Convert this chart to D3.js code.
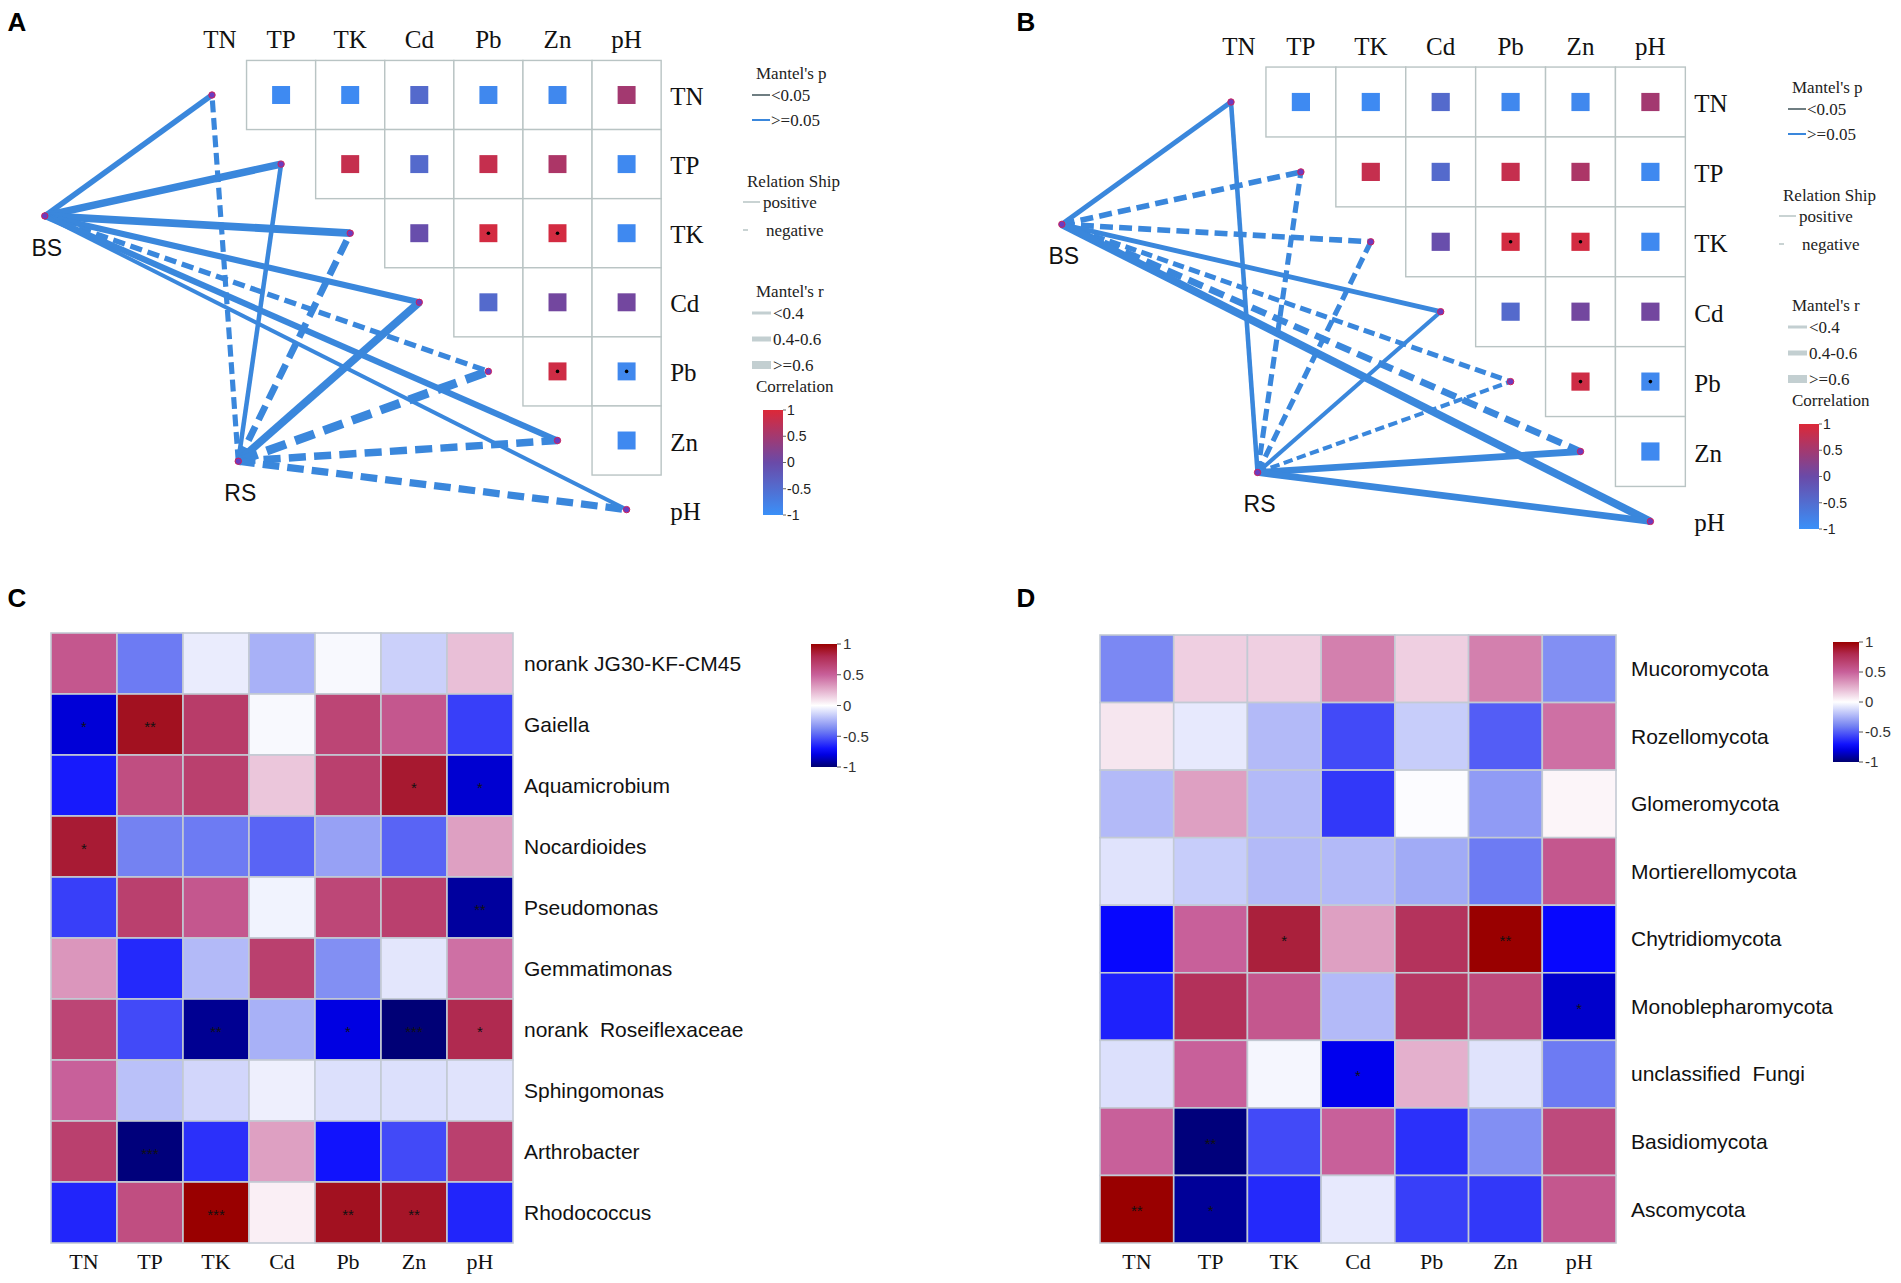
<!DOCTYPE html>
<html><head><meta charset="utf-8">
<script src="https://cdn.jsdelivr.net/npm/d3@7"></script>
<style>body{margin:0;background:#fff;} svg{display:block;} text{white-space:pre;}</style>
</head><body>
<svg id="chart" width="1901" height="1283"></svg>
<script>
// ---------------- DATA ----------------
const envVars = ["TN","TP","TK","Cd","Pb","Zn","pH"];
// Pearson correlation among environmental factors (upper triangle, row i / col j>i)
const envCorr = [
  [null,-0.92,-0.92,-0.45,-0.88,-0.88, 0.50],
  [null, null, 0.80,-0.45, 0.80, 0.58,-0.90],
  [null, null, null,-0.05, 0.92, 0.92,-0.90],
  [null, null, null, null,-0.45, 0.08, 0.08],
  [null, null, null, null, null, 0.88,-0.88],
  [null, null, null, null, null, null,-0.90],
  [null, null, null, null, null, null, null]
];
const envSig = [
  ["","","","","","",""],
  ["","","","","","",""],
  ["","","","","*","*",""],
  ["","","","","","",""],
  ["","","","","","*","*"],
  ["","","","","","",""],
  ["","","","","","",""]
];
const samples = ["BS","RS"];
// Mantel's r (sign = relationship: + positive / - negative); all Mantel's p >= 0.05
const mantelA_BS = [0.44, 0.63, 0.67, 0.50,-0.41, 0.50, 0.26];
const mantelA_RS = [-0.39, 0.33,-0.56, 0.67,-0.78,-0.63,-0.61];
const mantelB_BS = [0.37,-0.44,-0.44, 0.37,-0.37,-0.56, 0.67];
const mantelB_RS = [0.33,-0.39,-0.39, 0.28,-0.28, 0.56, 0.56];
const corrTicks = [1,0.5,0,-0.5,-1];

const bactGenera = ["norank JG30-KF-CM45","Gaiella","Aquamicrobium","Nocardioides","Pseudomonas","Gemmatimonas","norank  Roseiflexaceae","Sphingomonas","Arthrobacter","Rhodococcus"];
const bactCorr = [
  [ 0.55,-0.42,-0.06,-0.25,-0.02,-0.15, 0.20],
  [-0.82, 0.92, 0.70,-0.02, 0.65, 0.55,-0.58],
  [-0.68, 0.60, 0.68, 0.18, 0.68, 0.88,-0.83],
  [ 0.87,-0.40,-0.42,-0.48,-0.30,-0.48, 0.30],
  [-0.58, 0.68, 0.55,-0.04, 0.64, 0.68,-0.92],
  [ 0.33,-0.64,-0.22, 0.68,-0.36,-0.08, 0.45],
  [ 0.65,-0.55,-0.94,-0.25,-0.80,-0.99, 0.80],
  [ 0.50,-0.20,-0.13,-0.05,-0.10,-0.10,-0.09],
  [ 0.68,-0.98,-0.62, 0.30,-0.70,-0.55, 0.68],
  [-0.65, 0.60, 1.00, 0.05, 0.92, 0.90,-0.65]
];
const bactSig = [
  ["","","","","","",""],
  ["*","**","","","","",""],
  ["","","","","","*","*"],
  ["*","","","","","",""],
  ["","","","","","","**"],
  ["","","","","","",""],
  ["","","**","","*","***","*"],
  ["","","","","","",""],
  ["","***","","","","",""],
  ["","","***","","**","**",""]
];
const fungiPhyla = ["Mucoromycota","Rozellomycota","Glomeromycota","Mortierellomycota","Chytridiomycota","Monoblepharomycota","unclassified  Fungi","Basidiomycota","Ascomycota"];
const fungiCorr = [
  [-0.38, 0.15, 0.15, 0.40, 0.15, 0.40,-0.36],
  [ 0.08,-0.07,-0.22,-0.55,-0.16,-0.50, 0.45],
  [-0.22, 0.30,-0.22,-0.60,-0.01,-0.32, 0.03],
  [-0.09,-0.16,-0.22,-0.22,-0.27,-0.42, 0.55],
  [-0.73, 0.50, 0.85, 0.30, 0.75, 1.00,-0.73],
  [-0.66, 0.76, 0.55,-0.22, 0.72, 0.62,-0.84],
  [-0.10, 0.50,-0.03,-0.78, 0.25,-0.09,-0.42],
  [ 0.50,-0.98,-0.55, 0.50,-0.62,-0.36, 0.62],
  [ 1.00,-0.93,-0.64,-0.07,-0.58,-0.60, 0.55]
];
const fungiSig = [
  ["","","","","","",""],
  ["","","","","","",""],
  ["","","","","","",""],
  ["","","","","","",""],
  ["","","*","","","**",""],
  ["","","","","","","*"],
  ["","","","*","","",""],
  ["","**","","","","",""],
  ["**","*","","","","",""]
];

// ---------------- SETUP ----------------
const svg = d3.select("#chart");
const SERIF = "'Liberation Serif','Times New Roman',serif";
const SANS = "'Liberation Sans',Arial,Helvetica,sans-serif";
const corrColor = d3.scaleLinear().domain([-1,0,1]).range(["#3a90f8","#6a4aa8","#dc2838"]);
const heatColor = d3.scaleLinear()
  .domain([-1,-0.75,-0.4,0,0.5,0.8,1])
  .range(["#000070","#0000ff","#7482f2","#ffffff","#c8609a","#b02a50","#990000"]);
const widthScale = d3.scaleLinear().domain([0,1]).range([1.4,11]);
const LINE_BLUE = "#3a87dc";

const defs = svg.append("defs");
function gradient(id, scale){
  const lg = defs.append("linearGradient").attr("id",id).attr("x1",0).attr("y1",0).attr("x2",0).attr("y2",1);
  d3.range(0,1.0001,0.05).forEach(t=>{
    lg.append("stop").attr("offset",t).attr("stop-color",scale(1-2*t));
  });
}
gradient("gCorr", corrColor);
gradient("gHeat", heatColor);

function panelLetter(t,x,y){
  svg.append("text").attr("x",x).attr("y",y).attr("text-anchor","middle")
    .attr("font-family",SANS).attr("font-weight","bold").attr("font-size",26).text(t);
}

// ---------------- MANTEL PANELS ----------------
function mantelPanel(cfg){
  const g = svg.append("g");
  const x = d3.scaleLinear().domain([0,6]).range([cfg.ox, cfg.ox+6*cfg.cell]);
  const y = d3.scaleLinear().domain([0,6]).range([cfg.oy, cfg.oy+6*cfg.cell]);
  const h = cfg.cell/2;
  const cells = [];
  envCorr.forEach((row,i)=>row.forEach((v,j)=>{ if(j>i) cells.push({i,j,v,s:envSig[i][j]}); }));
  g.selectAll("rect.cell").data(cells).join("rect").attr("class","cell")
    .attr("x",d=>x(d.j)-h).attr("y",d=>y(d.i)-h).attr("width",cfg.cell).attr("height",cfg.cell)
    .attr("fill","#fff").attr("stroke","#b9c4c4").attr("stroke-width",1.4);
  const sq = cfg.cell*0.26;
  g.selectAll("rect.sq").data(cells).join("rect").attr("class","sq")
    .attr("x",d=>x(d.j)-sq/2).attr("y",d=>y(d.i)-sq/2).attr("width",sq).attr("height",sq)
    .attr("fill",d=>corrColor(d.v));
  g.selectAll("circle.sig").data(cells.filter(d=>d.s)).join("circle").attr("class","sig")
    .attr("cx",d=>x(d.j)).attr("cy",d=>y(d.i)).attr("r",1.8).attr("fill","#000");

  const nodePos = {BS:[x(-2.42),y(1.75)], RS:[x(0.38),y(5.3)]};
  const edges = [];
  cfg.mantel.forEach((arr,si)=>arr.forEach((r,j)=>edges.push({s:samples[si], j, r})));
  g.selectAll("line.edge").data(edges).join("line").attr("class","edge")
    .attr("x1",d=>nodePos[d.s][0]).attr("y1",d=>nodePos[d.s][1])
    .attr("x2",d=>x(d.j)).attr("y2",d=>y(d.j))
    .attr("stroke",LINE_BLUE).attr("stroke-width",d=>widthScale(Math.abs(d.r)))
    .attr("stroke-dasharray",d=>{ if(d.r>=0) return null; const w=widthScale(Math.abs(d.r)); return `${w*2.3},${w*1.1}`; });
  // env nodes
  g.selectAll("circle.env").data(envVars).join("circle").attr("class","env")
    .attr("cx",(d,i)=>x(i)).attr("cy",(d,i)=>y(i)).attr("r",3.2)
    .attr("fill","#6a3cc0").attr("stroke","#d0205a").attr("stroke-width",1);
  g.selectAll("circle.samp").data(samples).join("circle").attr("class","samp")
    .attr("cx",d=>nodePos[d][0]).attr("cy",d=>nodePos[d][1]).attr("r",3.2)
    .attr("fill","#6a3cc0").attr("stroke","#d0205a").attr("stroke-width",1);
  g.selectAll("text.samp").data(samples).join("text").attr("class","samp")
    .attr("x",d=>nodePos[d][0]+2).attr("y",d=>nodePos[d][1]+40).attr("text-anchor","middle")
    .attr("font-family",SANS).attr("font-size",23).attr("fill","#111").text(d=>d);
  // headers
  g.selectAll("text.colh").data(envVars).join("text").attr("class","colh")
    .attr("x",(d,i)=>x(i)+(i===0?8:0)).attr("y",cfg.oy-47).attr("text-anchor","middle")
    .attr("font-family",SERIF).attr("font-size",25).attr("fill","#111").text(d=>d);
  g.selectAll("text.rowh").data(envVars).join("text").attr("class","rowh")
    .attr("x",x(6)+h+9).attr("y",(d,i)=>y(i)+10).attr("text-anchor","start")
    .attr("font-family",SERIF).attr("font-size",25).attr("fill","#111").text(d=>d);

  // legend
  const L = g.append("g").attr("transform",`translate(${cfg.lx},${cfg.ly})`);
  const txt = (t,xx,yy,fs,fam)=>L.append("text").attr("x",xx).attr("y",yy).attr("dy","0.35em")
     .attr("font-family",fam||SERIF).attr("font-size",fs||17).attr("fill","#222").text(t);
  const ln = (x1,x2,yy,col,w)=>L.append("line").attr("x1",x1).attr("x2",x2).attr("y1",yy).attr("y2",yy)
     .attr("stroke",col).attr("stroke-width",w);
  txt("Mantel's p",756,73);
  ln(752,770,95,"#6f7e82",2); txt("<0.05",771,95);
  ln(752,770,120,LINE_BLUE,2); txt(">=0.05",771,120);
  txt("Relation Ship",747,181);
  ln(743,760,202,"#c9d3d3",2); txt("positive",763,202);
  ln(743,748,230,"#c9d3d3",2); txt("negative",766,230);
  txt("Mantel's r",756,291);
  ln(752,771,313,"#c3cfd1",3); txt("<0.4",773,313);
  ln(752,771,339,"#c3cfd1",5); txt("0.4-0.6",773,339);
  ln(752,771,365,"#c3cfd1",8); txt(">=0.6",773,365);
  txt("Correlation",756,386);
  const cb = {x:763,y:410,w:20,h:105};
  L.append("rect").attr("x",cb.x).attr("y",cb.y).attr("width",cb.w).attr("height",cb.h).attr("fill","url(#gCorr)");
  const cy = d3.scaleLinear().domain([1,-1]).range([cb.y,cb.y+cb.h]);
  corrTicks.forEach(t=>{
    ln(cb.x+cb.w, cb.x+cb.w+3, cy(t), "#666", 1);
    txt(String(t), cb.x+cb.w+4, cy(t), 14, SANS);
  });
}

panelLetter("A",17,31);
mantelPanel({ox:212, oy:95, cell:69.1, mantel:[mantelA_BS, mantelA_RS], lx:0, ly:0});
panelLetter("B",1026,31);
mantelPanel({ox:1231, oy:102, cell:69.9, mantel:[mantelB_BS, mantelB_RS], lx:1036, ly:14});

// ---------------- HEATMAPS ----------------
function heatmap(cfg){
  const g = svg.append("g");
  const x = d3.scaleBand().domain(envVars).range([cfg.x0,cfg.x1]);
  const y = d3.scaleBand().domain(cfg.rows).range([cfg.y0,cfg.y1]);
  const cells = [];
  cfg.rows.forEach((r,i)=>envVars.forEach((c,j)=>cells.push({r,c,v:cfg.vals[i][j],s:cfg.sig[i][j]})));
  g.selectAll("rect").data(cells).join("rect")
    .attr("x",d=>x(d.c)).attr("y",d=>y(d.r)).attr("width",x.bandwidth()).attr("height",y.bandwidth())
    .attr("fill",d=>heatColor(d.v)).attr("stroke","#c3cad4").attr("stroke-width",1.6);
  g.selectAll("text.star").data(cells.filter(d=>d.s)).join("text").attr("class","star")
    .attr("x",d=>x(d.c)+x.bandwidth()/2).attr("y",d=>y(d.r)+y.bandwidth()/2+7)
    .attr("text-anchor","middle").attr("font-family",SANS).attr("font-size",15).attr("fill","#111").text(d=>d.s);
  g.selectAll("text.rl").data(cfg.rows).join("text").attr("class","rl")
    .attr("x",cfg.labelX).attr("y",d=>y(d)+y.bandwidth()/2).attr("dy","0.35em")
    .attr("font-family",SANS).attr("font-size",21).attr("fill","#111").text(d=>d);
  g.selectAll("text.cl").data(envVars).join("text").attr("class","cl")
    .attr("x",d=>x(d)+x.bandwidth()/2).attr("y",cfg.y1+26).attr("text-anchor","middle")
    .attr("font-family",SERIF).attr("font-size",22).attr("fill","#111").text(d=>d);
  const cb = cfg.cb;
  g.append("rect").attr("x",cb.x).attr("y",cb.y).attr("width",cb.w).attr("height",cb.h).attr("fill","url(#gHeat)");
  const cy = d3.scaleLinear().domain([1,-1]).range([cb.y,cb.y+cb.h]);
  corrTicks.forEach(t=>{
    g.append("line").attr("x1",cb.x+cb.w).attr("x2",cb.x+cb.w+4).attr("y1",cy(t)).attr("y2",cy(t)).attr("stroke","#555");
    g.append("text").attr("x",cb.x+cb.w+6).attr("y",cy(t)).attr("dy","0.35em")
      .attr("font-family",SANS).attr("font-size",15).attr("fill","#333").text(String(t));
  });
}

panelLetter("C",17,607);
heatmap({x0:51,x1:513,y0:633,y1:1243,rows:bactGenera,vals:bactCorr,sig:bactSig,labelX:524,
  cb:{x:811,y:644,w:26,h:123}});
panelLetter("D",1026,607);
heatmap({x0:1100,x1:1616,y0:635,y1:1243,rows:fungiPhyla,vals:fungiCorr,sig:fungiSig,labelX:1631,
  cb:{x:1833,y:642,w:26,h:120}});
</script>
</body></html>
